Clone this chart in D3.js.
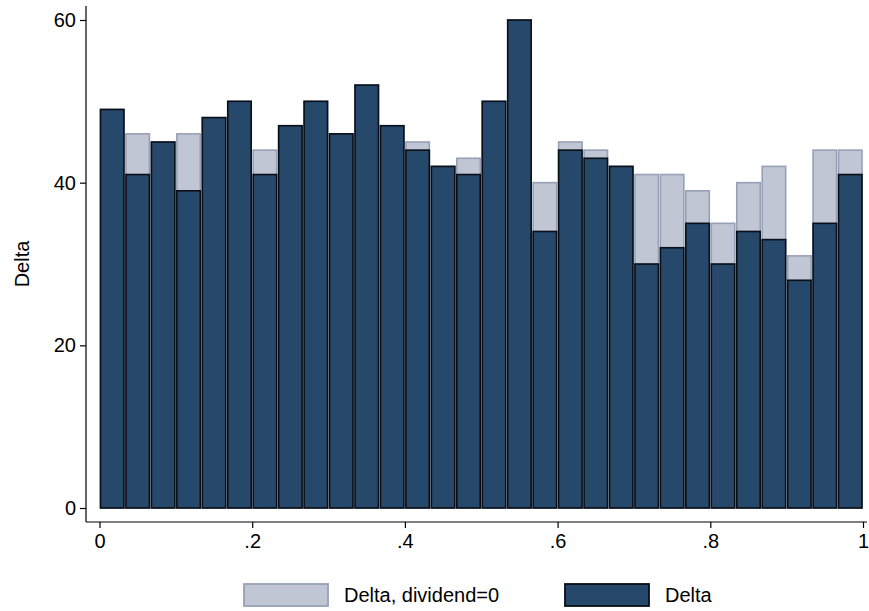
<!DOCTYPE html>
<html><head><meta charset="utf-8">
<script src="https://cdn.jsdelivr.net/npm/d3@7"></script>
<style>body{margin:0;background:#fff}svg{display:block}text{font-family:"Liberation Sans",Arial,sans-serif}</style>
</head><body><svg id="c" width="869" height="611"></svg>
<script>
const binStarts = d3.range(30).map(i => i/30);
const deltaDiv0 = [49,46,45,46,48,50,44,47,50,46,52,47,45,42,43,50,60,40,45,44,42,41,41,39,35,40,42,31,44,44];
const delta     = [49,41,45,39,48,50,41,47,50,46,52,47,44,42,41,50,60,34,44,43,42,30,32,35,30,34,33,28,35,41];
const xTicks = [0,0.2,0.4,0.6,0.8,1];
const xTickLabels = ["0",".2",".4",".6",".8","1"];
const yTicks = [0,20,40,60];
const seriesNames = ["Delta, dividend=0","Delta"];

const svg = d3.select("#c");
const x = d3.scaleLinear().domain([0,1]).range([99.5,863]);
const y = d3.scaleLinear().domain([0,60]).range([508,20]);
const bw = 1/30;

const light = {fill:"#c0c6d4", stroke:"#96a0b6"};
const dark = {fill:"#26486b", stroke:"#0a0e16"};

function bars(data, st){
  svg.append("g").selectAll("rect").data(data).join("rect")
    .attr("x",(d,i)=>x(binStarts[i])+1)
    .attr("width",(d,i)=>x(binStarts[i]+bw)-x(binStarts[i])-2)
    .attr("y",d=>y(d))
    .attr("height",d=>y(0)-y(d))
    .attr("fill",st.fill).attr("stroke",st.stroke).attr("stroke-width",1.6);
}
bars(deltaDiv0, light);
bars(delta, dark);

// axes
const yAxis = d3.axisLeft(y).tickValues(yTicks).tickSize(6).tickPadding(4);
const gy = svg.append("g").attr("transform","translate(86,0)").call(yAxis);
gy.select(".domain").attr("d","M0,6V522");
const xAxis = d3.axisBottom(x).tickValues(xTicks).tickFormat((d,i)=>xTickLabels[i]).tickSize(6).tickPadding(6);
const gx = svg.append("g").attr("transform","translate(0,522)").call(xAxis);
gx.select(".domain").attr("d","M86,0H867");
svg.selectAll(".tick text").attr("font-size",20).attr("font-family","Liberation Sans, Arial, sans-serif").attr("fill","#000");
svg.selectAll(".domain,.tick line").attr("stroke","#000").attr("stroke-width",1.2);

svg.append("text").attr("transform","translate(29,264) rotate(-90)")
  .attr("text-anchor","middle").attr("font-size",20).text("Delta");

// legend
const lg = svg.append("g");
const legItems = [{n:seriesNames[0], st:light, bx:244, tx:344},{n:seriesNames[1], st:dark, bx:565, tx:665}];
legItems.forEach(it=>{
  lg.append("rect").attr("x",it.bx).attr("y",584).attr("width",84).attr("height",22)
    .attr("fill",it.st.fill).attr("stroke",it.st.stroke).attr("stroke-width",1.8);
  lg.append("text").attr("x",it.tx).attr("y",602).attr("font-size",20).text(it.n);
});
</script></body></html>
